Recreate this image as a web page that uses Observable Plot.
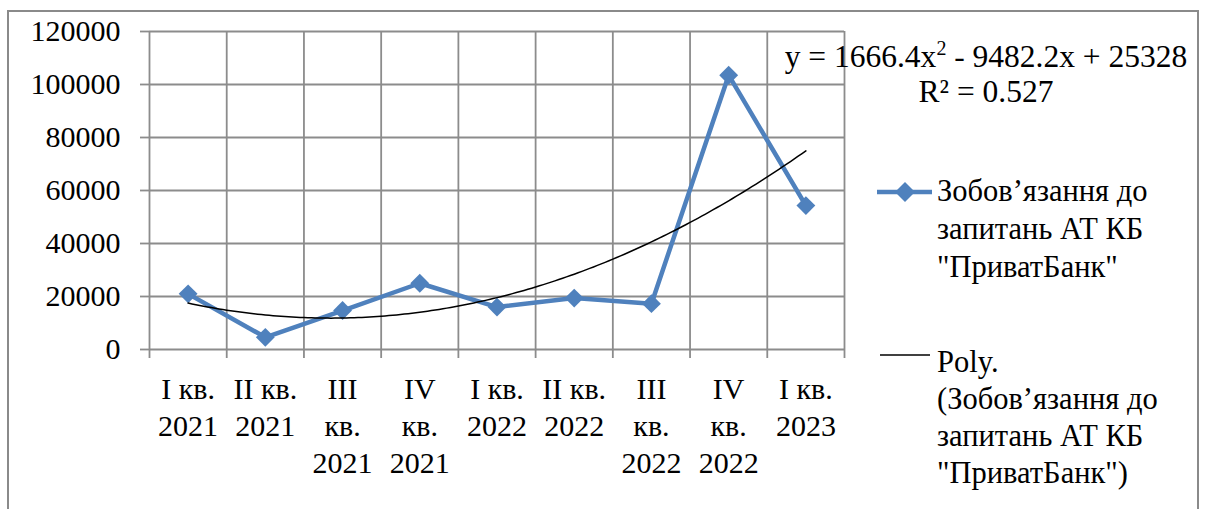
<!DOCTYPE html>
<html>
<head>
<meta charset="utf-8">
<script src="https://cdn.jsdelivr.net/npm/d3@7"></script>
<script src="https://cdn.jsdelivr.net/npm/@observablehq/plot@0.6"></script>
<style>
  body { margin: 0; background: #fff; }
  #wrap { position: relative; width: 1209px; height: 509px; overflow: hidden;
          font-family: "Liberation Serif", "Times New Roman", serif; color: #000; }
  #frame { position: absolute; left: 7px; top: 10px; width: 1192px; height: 540px;
           border: 2px solid #8a8a8a; box-sizing: border-box; }
  #chart { position: absolute; left: 0; top: 0; }
  .txt { position: absolute; font-size: 30.5px; line-height: 38px; white-space: nowrap; }
  #eq { left: 760px; width: 452px; top: 39px; text-align: center; line-height: 35px; font-size: 31.5px; }
  #leg1 { left: 937px; top: 172px; }
  #leg2 { left: 937px; top: 344px; line-height: 37px; }
  .mk { position: absolute; }
</style>
</head>
<body>
<div id="wrap">
  <div id="frame"></div>
  <div id="chart"></div>
</div>
<script>
// ---- data ----
const quarters = ["I кв.\n2021", "II кв.\n2021", "III\nкв.\n2021", "IV\nкв.\n2021",
                  "I кв.\n2022", "II кв.\n2022", "III\nкв.\n2022", "IV\nкв.\n2022", "I кв.\n2023"];
const values = [21000, 4600, 14700, 25000, 16000, 19400, 17300, 103500, 54300];
const seriesName = "Зобов’язання до<br>запитань АТ КБ<br>\"ПриватБанк\"";
const trendName = "Poly.<br>(Зобов’язання до<br>запитань АТ КБ<br>\"ПриватБанк\")";
const trendCoefs = [1666.4, -9482.2, 25328]; // a, b, c from the chart's equation
const equationText = "y = 1666.4x<sup style=\"font-size:20px;vertical-align:12px;line-height:0\">2</sup> - 9482.2x + 25328<br>R² = 0.527";
const yTicks = [0, 20000, 40000, 60000, 80000, 100000, 120000];

// ---- derived ----
const blue = "#4F81BD";
const gridColor = "#8c8c8c";
const data = values.map((v, i) => ({ i: i + 1, v, q: quarters[i] }));
const boundaries = d3.range(0.5, quarters.length + 1, 1);
const trend = d3.range(1, quarters.length + 0.001, 0.05).map(x => ({
  x, y: trendCoefs[0] * x * x + trendCoefs[1] * x + trendCoefs[2]
}));

const chart = Plot.plot({
  width: 1209, height: 509,
  marginLeft: 149, marginRight: 365, marginTop: 31, marginBottom: 160,
  x: { type: "linear", domain: [0.5, quarters.length + 0.5] },
  y: { domain: [0, 120000] },
  style: { fontFamily: "'Liberation Serif', 'Times New Roman', serif", fontSize: "30px", background: "transparent", color: "#000" },
  marks: [
    Plot.gridY(yTicks, { stroke: gridColor, strokeOpacity: 1, strokeWidth: 1.8 }),
    Plot.ruleX(boundaries, { x: d => d, y1: () => 0, y2: () => 120000, stroke: gridColor, strokeWidth: 1.8 }),
    Plot.axisY(yTicks, { tickSize: 9, tickPadding: 20, stroke: gridColor, strokeWidth: 1.8, tickFormat: d3.format("d"), label: null, fill: "#000", fontSize: 30 }),
    Plot.axisX(boundaries, { tickSize: 9, tickFormat: () => "", stroke: gridColor, strokeWidth: 1.8, label: null }),
    Plot.text(data, { x: "i", y: () => 0, text: "q", dy: 23, lineAnchor: "top", lineHeight: 37 / 30, fill: "#000", fontSize: 30 }),
    Plot.line(data, { x: "i", y: "v", stroke: blue, strokeWidth: 4.5 }),
    Plot.dot(data, { x: "i", y: "v", symbol: "diamond2", r: 8.5, fill: blue, stroke: "none" }),
    Plot.line(trend, { x: "x", y: "y", stroke: "#000", strokeWidth: 1.5, curve: "linear" })
  ]
});
document.getElementById("chart").appendChild(chart);

// ---- overlays: equation and legend ----
const wrap = document.getElementById("wrap");
function addDiv(id, html) {
  const d = document.createElement("div");
  d.id = id; d.className = "txt"; d.innerHTML = html; wrap.appendChild(d);
}
addDiv("eq", equationText);
addDiv("leg1", seriesName);
addDiv("leg2", trendName);

const ns = "http://www.w3.org/2000/svg";
function marker(left, top, w, h, build) {
  const s = document.createElementNS(ns, "svg");
  s.setAttribute("width", w); s.setAttribute("height", h);
  s.setAttribute("class", "mk");
  s.style.left = left + "px"; s.style.top = top + "px";
  build(s); wrap.appendChild(s);
}
marker(875, 179, 60, 26, s => {
  s.innerHTML = `<line x1="2" y1="13" x2="57" y2="13" stroke="${blue}" stroke-width="4.5"/>
                 <path d="M30,3 L40,13 L30,23 L20,13 Z" fill="${blue}"/>`;
});
marker(876, 349, 60, 12, s => {
  s.innerHTML = `<line x1="4" y1="6" x2="54" y2="6" stroke="#000" stroke-width="1.5"/>`;
});
</script>
</body>
</html>
